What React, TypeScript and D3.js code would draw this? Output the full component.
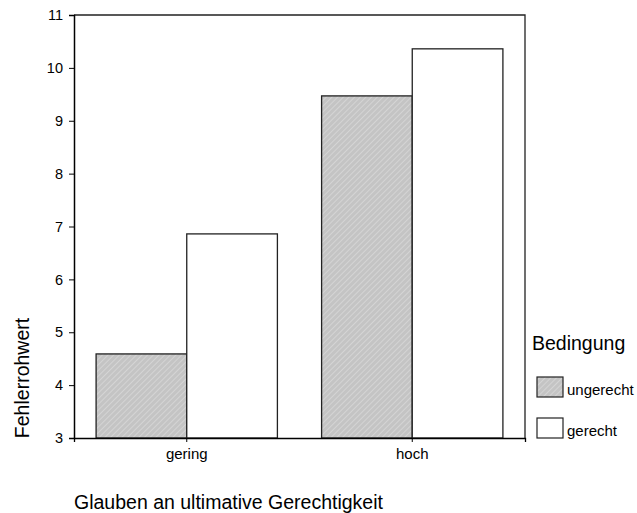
import { useRef, useEffect } from 'react';
import * as d3 from 'd3';

const categories = ['gering', 'hoch'];
const conditions = ['ungerecht', 'gerecht'];
const ungerechtValues = [4.59, 9.47];
const gerechtValues = [6.86, 10.36];
const yTicks = [3, 4, 5, 6, 7, 8, 9, 10, 11];

export default function App() {
  const svgRef = useRef<SVGSVGElement>(null);
  const width = 637;
  const height = 513;

  useEffect(() => {
    if (!svgRef.current) return;
    const svg = d3.select(svgRef.current);
    svg.selectAll('*').remove();

    const font = 'Arial, "Liberation Sans", sans-serif';
    const margin = { top: 15, right: 112, bottom: 75, left: 74 };
    const innerWidth = width - margin.left - margin.right;
    const innerHeight = height - margin.top - margin.bottom;

    // hatch pattern for the ungerecht bars
    const defs = svg.append('defs');
    const pattern = defs.append('pattern')
      .attr('id', 'hatch')
      .attr('patternUnits', 'userSpaceOnUse')
      .attr('width', 4)
      .attr('height', 4)
      .attr('patternTransform', 'rotate(45)');
    pattern.append('rect')
      .attr('width', 4).attr('height', 4)
      .attr('fill', '#c4c4c4');
    pattern.append('line')
      .attr('x1', 0).attr('y1', 0).attr('x2', 0).attr('y2', 4)
      .attr('stroke', '#e2e2e2')
      .attr('stroke-width', 1.1);

    const g = svg.append('g')
      .attr('transform', `translate(${margin.left},${margin.top})`);

    const x0 = d3.scaleBand()
      .domain(categories)
      .range([0, innerWidth])
      .paddingInner(0.196)
      .paddingOuter(0.098);

    const x1 = d3.scaleBand()
      .domain(conditions)
      .range([0, x0.bandwidth()]);

    const y = d3.scaleLinear()
      .domain([3, 11])
      .range([innerHeight, 0]);

    const fills: Record<string, string> = {
      ungerecht: 'url(#hatch)',
      gerecht: '#ffffff'
    };

    const rows = categories.map((c, i) => ({
      category: c,
      values: [
        { key: 'ungerecht', value: ungerechtValues[i] },
        { key: 'gerecht', value: gerechtValues[i] }
      ]
    }));

    // bars
    rows.forEach(row => {
      row.values.forEach(v => {
        g.append('rect')
          .attr('x', (x0(row.category) ?? 0) + (x1(v.key) ?? 0))
          .attr('y', y(v.value))
          .attr('width', x1.bandwidth())
          .attr('height', innerHeight - y(v.value))
          .attr('fill', fills[v.key])
          .attr('stroke', '#222')
          .attr('stroke-width', 1.3);
      });
    });

    // frame
    g.append('path')
      .attr('d', `M0,0H${innerWidth}V${innerHeight}`)
      .attr('fill', 'none')
      .attr('stroke', '#222')
      .attr('stroke-width', 1.3);

    // y axis
    const yAxis = g.append('g')
      .call(d3.axisLeft(y).tickValues(yTicks).tickSize(5).tickPadding(6).tickFormat(d3.format('d')));
    yAxis.select('.domain').attr('stroke', '#000').attr('stroke-width', 1.5);
    yAxis.selectAll('.tick line').attr('stroke', '#000');
    yAxis.selectAll('.tick text')
      .attr('font-family', font)
      .attr('font-size', 14.5)
      .attr('fill', '#000');

    // x axis
    const xAxis = g.append('g')
      .attr('transform', `translate(0,${innerHeight})`)
      .call(d3.axisBottom(x0).tickSize(4).tickPadding(6));
    xAxis.select('.domain').attr('stroke', '#000').attr('stroke-width', 1.3);
    xAxis.selectAll('.tick line').attr('stroke', '#000');
    xAxis.selectAll('.tick text')
      .attr('font-family', font)
      .attr('font-size', 15)
      .attr('fill', '#000');

    // axis titles
    svg.append('text')
      .attr('transform', 'translate(29,378) rotate(-90)')
      .attr('text-anchor', 'middle')
      .attr('font-family', font)
      .attr('font-size', 19.5)
      .text('Fehlerrohwert');

    svg.append('text')
      .attr('x', 74)
      .attr('y', 509)
      .attr('font-family', font)
      .attr('font-size', 19.5)
      .text('Glauben an ultimative Gerechtigkeit');

    // legend
    const legend = svg.append('g')
      .attr('transform', 'translate(532,0)');
    legend.append('text')
      .attr('x', 0)
      .attr('y', 350)
      .attr('font-family', font)
      .attr('font-size', 19.5)
      .text('Bedingung');

    conditions.forEach((c, i) => {
      const top = 377 + i * 41;
      legend.append('rect')
        .attr('x', 5)
        .attr('y', top)
        .attr('width', 26)
        .attr('height', 20)
        .attr('fill', fills[c])
        .attr('stroke', '#222')
        .attr('stroke-width', 1.2);
      legend.append('text')
        .attr('x', 35)
        .attr('y', top + 17.5)
        .attr('font-family', font)
        .attr('font-size', 15)
        .text(c);
    });
  }, []);

  return (
    <svg
      ref={svgRef}
      width={width}
      height={height}
      style={{ position: 'absolute', left: 0, top: 0, background: '#fff' }}
    />
  );
}
